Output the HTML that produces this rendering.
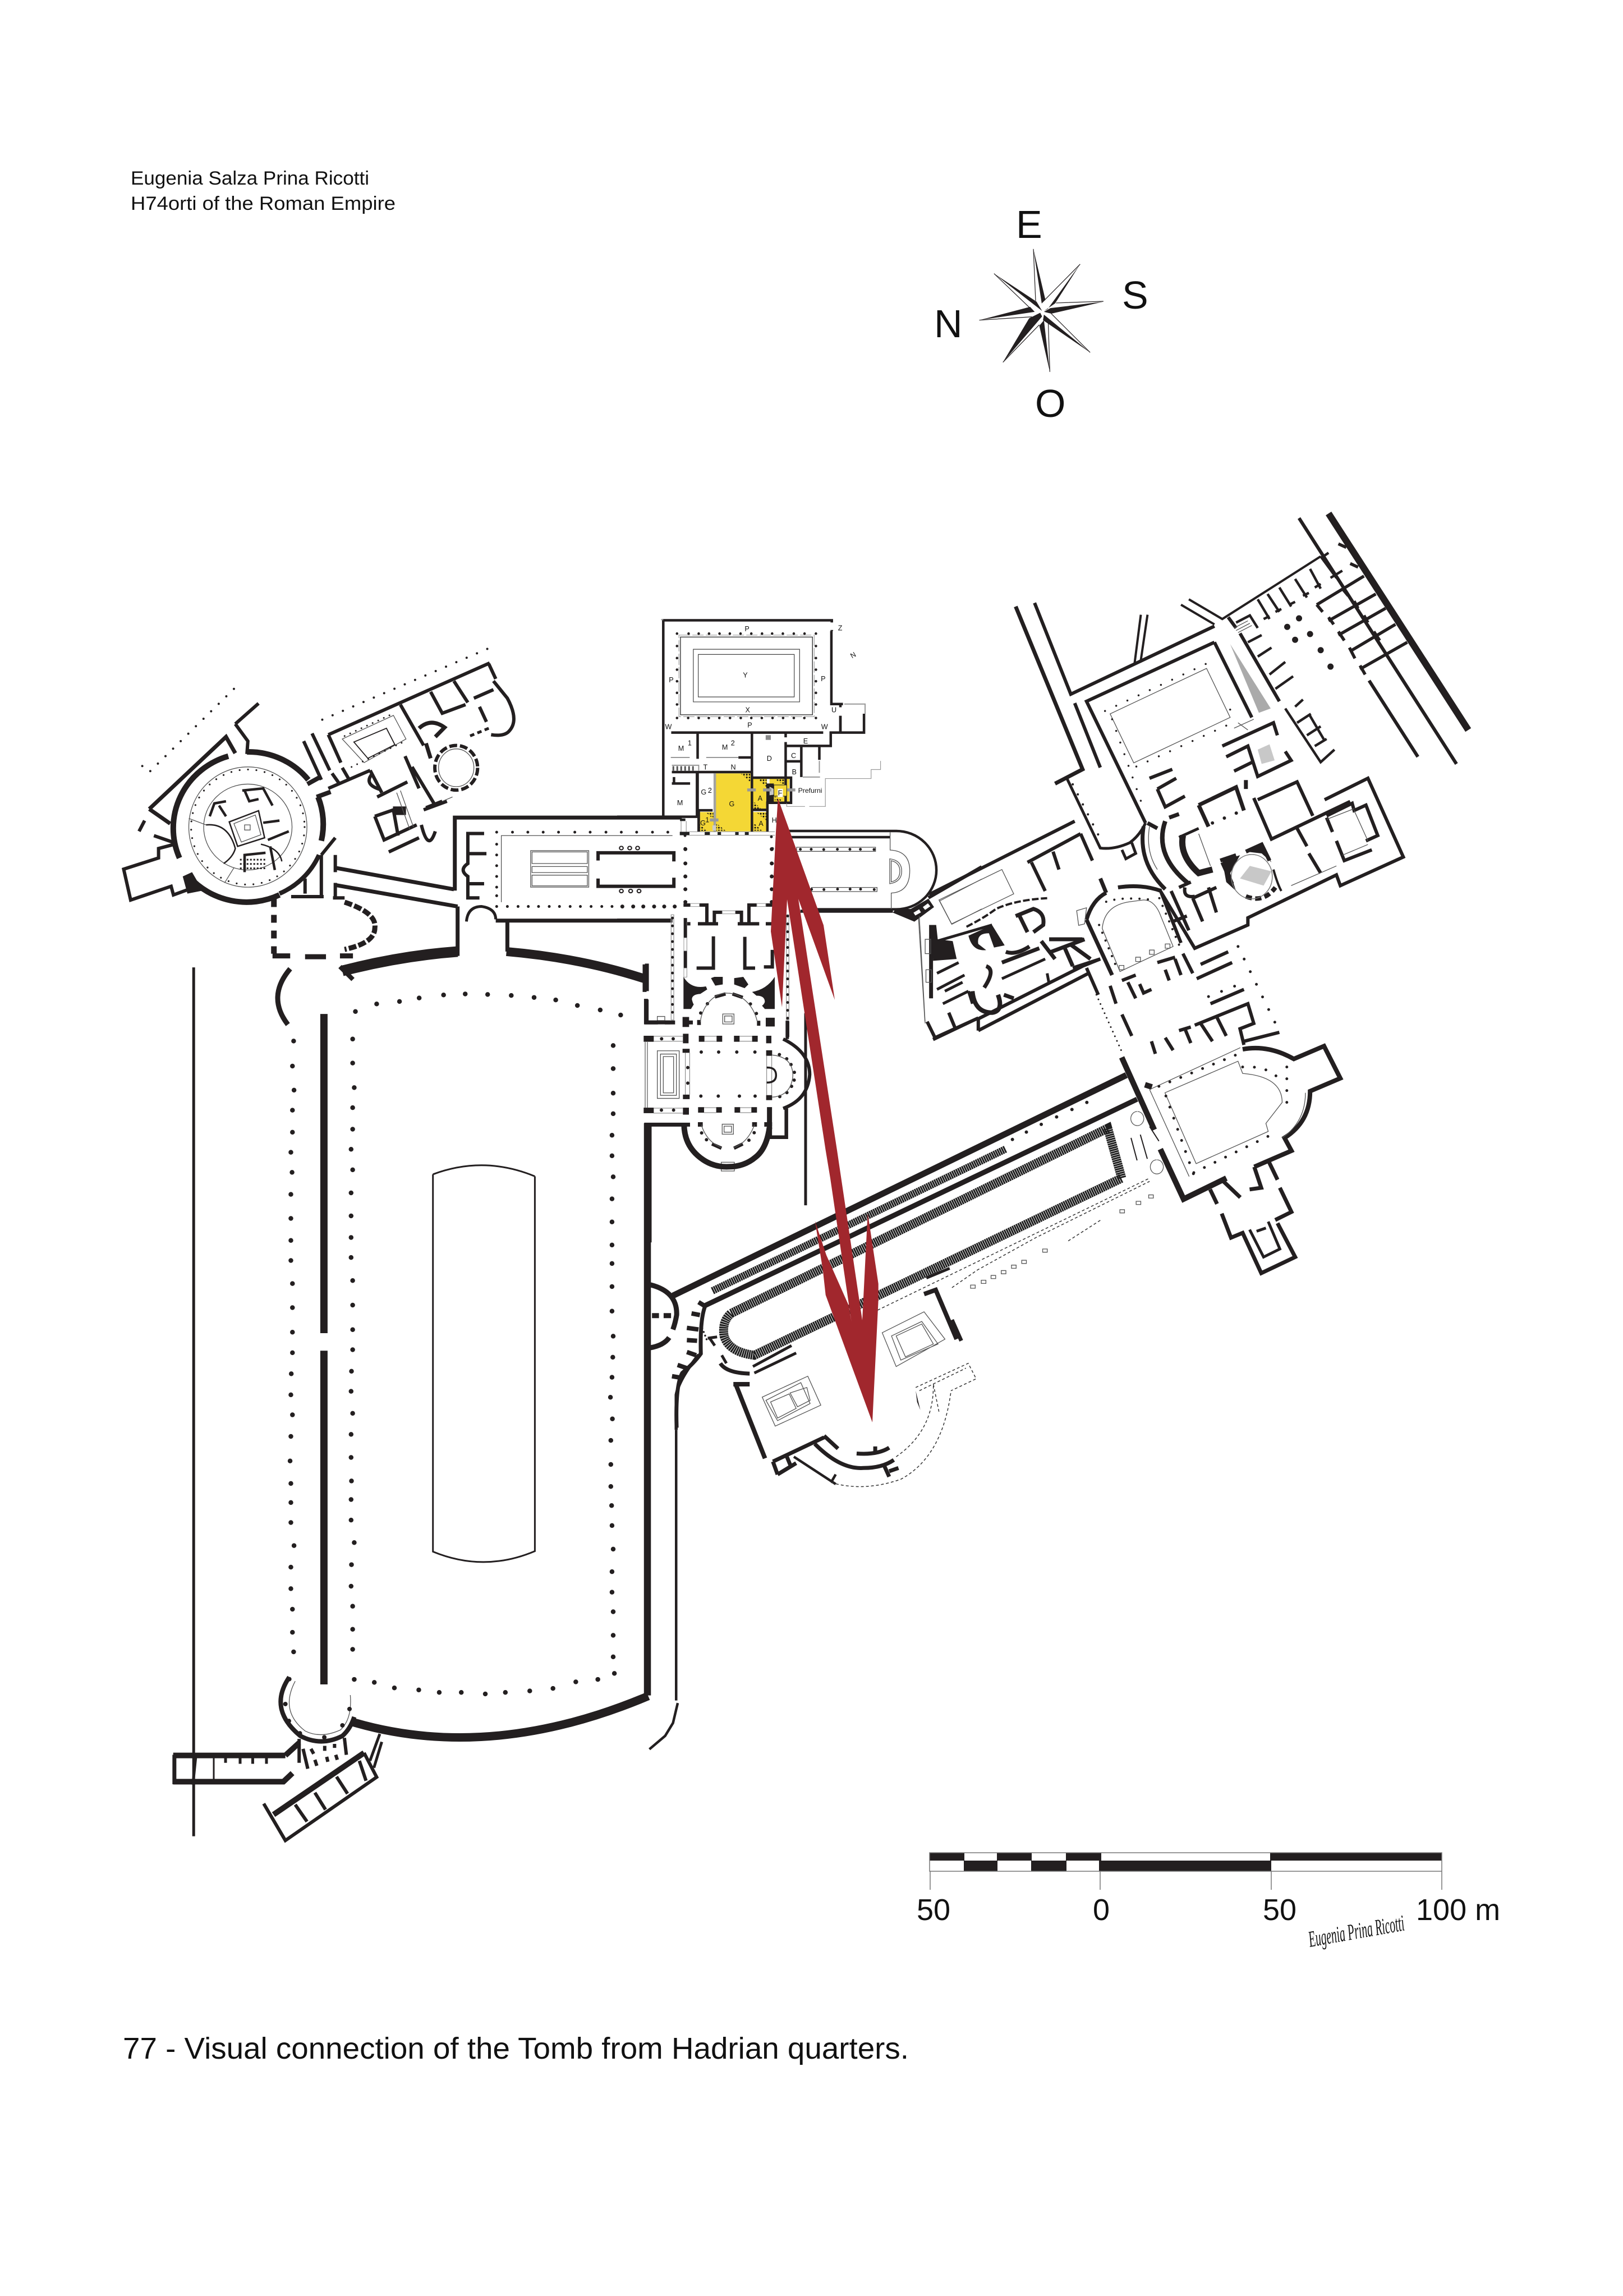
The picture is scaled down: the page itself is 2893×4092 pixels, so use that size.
<!DOCTYPE html>
<html lang="en">
<head>
<meta charset="utf-8">
<title>Visual connection of the Tomb from Hadrian quarters</title>
<style>
html,body{margin:0;padding:0;background:#fff;width:2893px;height:4092px;overflow:hidden}
svg{display:block}
svg *{vector-effect:non-scaling-stroke}
.plan{fill:none;stroke:#231f20;stroke-linejoin:miter;stroke-linecap:butt}
.solid{fill:#231f20;stroke:none}
.thin{stroke-width:1.3}
.t{stroke:#555;stroke-width:1.3;fill:none}
.g{stroke:#999;stroke-width:2;fill:none}
.dots{stroke-linecap:round;fill:none}
.hedge{stroke:#1f1f1f;stroke-dasharray:3 .9;fill:none}
.dash{stroke:#333;stroke-width:1.5;stroke-dasharray:5 4;fill:none}
.lab{font-family:"Liberation Sans",sans-serif;fill:#111;stroke:none;text-anchor:middle;font-size:33px}
.txt{font-family:"Liberation Sans",sans-serif;fill:#111;stroke:none}
</style>
</head>
<body>
<svg xmlns="http://www.w3.org/2000/svg" width="2893" height="4092" viewBox="0 0 2893 4092">
<rect width="2893" height="4092" fill="#fff"/>

<text class="txt" x="233" y="329" font-size="34" textLength="425" lengthAdjust="spacingAndGlyphs">Eugenia Salza Prina Ricotti</text>
<text class="txt" x="233" y="374" font-size="34" textLength="472" lengthAdjust="spacingAndGlyphs">H74orti of the Roman Empire</text>

<g transform="translate(1650,340) scale(.3294)">
  <g class="solid">
    <polygon points="583,315 648,590 628,610"/>
    <polygon points="836,397 700,610 640,650 660,640"/>
    <polygon points="962,600 675,635 640,655 680,665"/>
    <polygon points="890,875 640,670 635,700"/>
    <polygon points="672,980 615,730 640,700"/>
    <polygon points="418,928 560,690 620,660 630,680"/>
    <polygon points="290,700 565,628 590,655"/>
    <polygon points="370,448 600,600 630,650"/>
  </g>
  <path class="plan" stroke-width="1.2" d="M583 315L595 595M836 397L645 590M962 598L705 607M890 875L680 665M672 980L663 705M418 928L615 725M290 700L575 682M370 448L560 630"/>
</g>
<g class="txt" font-size="70">
  <text x="1811" y="424">E</text>
  <text x="1665" y="601">N</text>
  <text x="2000" y="550">S</text>
  <text x="1845" y="743">O</text>
</g>

<!-- Stadium (Pecile) : zoom space x=200+.7015X y=1700+.893Y -->
<g class="plan" transform="translate(200,1700) scale(.7015,.893)">
  <path stroke-width="5" d="M207 27V1761"/>
  <path stroke-width="13" d="M538 120V757M538 792V1458"/>
  <path stroke-width="3" d="M815 440Q945 402 1074 444M815 440V1193Q945 1235 1074 1192V444"/>
  <path stroke-width="12.5" d="M1360 338V1480"/>
  <path stroke-width="5.5" d="M1433 950V880Q1440 850 1490 800"/>
  <path stroke-width="4.5" d="M1433 950V1490"/>
  <path class="dots" stroke-width="8.5" d="M618 115h0M672 100h0M730 95h0M780 88h0M842 82h0M897 80h0M954 81h0M1014 83h0M1072 87h0M1127 92h0M1182 103h0M1240 112h0M1292 122h0
  M461 174h0M458 224h0M462 272h0M458 312h0M458 356h0M454 396h0M457 436h0M454 480h0M454 528h0M454 572h0M454 612h0M458 658h0M458 706h0M458 755h0M458 796h0M455 838h0M454 880h0M458 920h0M454 963h0M452 1012h0M454 1057h0M454 1095h0M454 1135h0M462 1181h0M454 1224h0M454 1267h0M458 1308h0M458 1354h0M461 1393h0
  M611 170h0M611 218h0M615 267h0M611 307h0M611 350h0M607 390h0M611 431h0M607 477h0M607 523h0M607 566h0M607 606h0M611 652h0M611 701h0M611 750h0M611 790h0M608 833h0M607 873h0M611 917h0M607 959h0M607 1005h0M608 1052h0M607 1089h0M607 1130h0M615 1175h0M608 1219h0M607 1262h0M611 1302h0M611 1348h0M611 1388h0
  M1273 183h0M1273 229h0M1273 278h0M1273 319h0M1270 362h0M1270 403h0M1273 445h0M1270 489h0M1270 535h0M1270 581h0M1270 618h0M1270 664h0M1270 713h0M1273 763h0M1272 805h0M1270 845h0M1266 885h0M1271 928h0M1267 971h0M1267 1019h0M1267 1063h0M1269 1101h0M1270 1141h0M1273 1188h0M1270 1233h0M1270 1274h0M1273 1313h0M1273 1360h0M1273 1403h0M1276 1436h0
  M615 1448h0M666 1454h0M717 1465h0M779 1469h0M831 1474h0M887 1474h0M948 1477h0M999 1474h0M1061 1471h0M1120 1466h0M1178 1453h0M1234 1448h0"/>
</g>

<!-- Zoom 7 space : south end x=200+.7015X y=2950+.355Y -->
<g class="plan" transform="translate(200,2950) scale(.7015,.355)">
  <path stroke-width="15" d="M610 335Q960 540 1362 205"/>
  <path stroke-width="8" d="M450 110Q395 270 478 405Q530 460 585 405Q605 370 615 310"/>
  <path class="t" d="M465 130Q425 280 490 380Q530 420 580 375Q610 320 605 200"/>
  <path class="dots" stroke-width="8" d="M450 120h0M440 245h0M449 330h0M477 392h0M539 412h0M585 352h0M603 270h0"/>
  <path stroke-width="4.5" d="M1437 240L1425 340L1405 405L1365 472"/>
  <g>
    <path stroke-width="10" d="M155 503H440M440 503L475 440M155 635H435L458 592"/>
    <path stroke-width="7" d="M158 500V648"/>
    <path stroke-width="5" d="M212 515L205 650M288 515V540M325 515V545M357 515V545M392 515V545"/>
    <path stroke-width="3" d="M258 495V645"/>
    <path stroke-width="6" d="M475 420V540M485 470L497 570M590 415L595 500M505 470L512 495M540 455V480M565 445V465M515 525L520 555M545 510L548 535M568 500L572 525"/>
  </g>
  <g>
    <path stroke-width="10" d="M640 490L410 800"/>
    <path stroke-width="6" d="M385 745L440 930L672 612L640 490M465 750L495 835M515 690L542 775M570 610L598 695M628 530L645 630"/>
    <path stroke-width="5" d="M680 395L655 530M685 435L665 565"/>
  </g>
</g>

<!-- Zoom 1 space : x=150+.829X y=900+.7653Y -->
<g class="plan" transform="translate(150,900) scale(.829,.7653)">
  <g stroke-width="10">
    <path d="M350 575A165 175 0 0 1 482 640"/>
    <path d="M503 680A165 175 0 0 1 510 782"/>
    <path stroke-width="8" d="M505 815A165 175 0 0 1 420 905"/>
    <path d="M225 865A165 175 0 0 0 420 908"/>
    <path d="M205 822A165 175 0 0 1 310 585"/>
  </g>
  <path stroke-width="7" d="M140 708L305 540L325 578M140 708L185 742"/>
  <path stroke-width="6" d="M325 510L375 462M325 510L352 550L350 580"/>
  <path class="dots" stroke-width="4" stroke-dasharray="0 19" d="M125 608L140 622L325 425L315 408"/>
  <path stroke-width="6" d="M195 790L160 800V822L85 848L100 920L187 888L192 908L225 895M130 735L118 760M150 770L190 785"/>
  <polygon class="solid" points="212,865 232,855 255,898 222,905"/>
  <path stroke-width="8" d="M480 650L505 635M500 680L530 668"/>
  <ellipse class="t" cx="352" cy="750" rx="127" ry="140"/>
  <ellipse class="dots" cx="352" cy="750" rx="122" ry="134" stroke-width="3.2" stroke-dasharray="0 15"/>
  <ellipse class="t" cx="352" cy="750" rx="95" ry="100"/>
  <g>
    <path stroke-width="2.5" d="M312 738L375 712L388 775L330 795Z"/>
    <path class="t" d="M322 742L368 722L380 768L338 785Z"/>
    <rect x="345" y="745" width="12" height="12" class="t"/>
    <path stroke-width="4.5" d="M270 725L280 695L305 690M290 700L305 725M340 665L385 660L405 700M345 665L355 690L375 685M385 740L420 735M395 780L440 760M345 855L345 815L390 810M400 795L410 850"/>
    <path stroke-width="2.5" d="M262 745Q310 740 325 800Q320 820 300 835M380 790Q420 800 425 830"/>
    <path stroke="#231f20" stroke-width="3" stroke-dasharray="3 3" d="M335 826H392M335 836H392M335 846H392"/>
    <path class="t" d="M225 730L262 745M322 845L302 880"/>
  </g>
  <!-- NW building -->
  <g>
    <path class="dots" stroke-width="4" stroke-dasharray="0 20" d="M512 500L878 330"/>
    <path stroke-width="6" d="M525 535L872 368M525 660L615 618M500 680L530 668M525 535L552 600M490 532L528 618M472 550L510 640M533 625L548 648M555 612L570 640"/>
    <path class="t" d="M555 545L665 490L692 545L602 600Z"/>
    <path stroke-width="1.8" d="M580 552L650 520L668 558L610 590Z"/>
    <path class="dots" stroke-width="3" stroke-dasharray="0 11" d="M560 538L668 484M575 610L690 550"/>
    <path stroke-width="6" d="M615 618L640 670M620 625Q600 650 635 662M680 465L730 560M690 585L720 660M705 610L755 700M730 710L780 690M630 680L695 645M745 435L770 485L820 465M795 410L825 460M838 450L880 430M850 470L865 505M880 410L910 450Q935 500 915 525Q905 540 875 535M870 370L885 405"/>
    <path stroke-width="5" stroke-dasharray="8 6" d="M870 520L825 540"/>
    <path stroke-width="7" d="M720 520Q745 495 775 518L755 540M735 555L745 590"/>
    <ellipse stroke-width="6" stroke-dasharray="14 5" cx="800" cy="612" rx="46" ry="52"/>
    <ellipse class="t" cx="800" cy="612" rx="38" ry="44"/>
    <path stroke-width="6" d="M625 725L665 710L675 770M625 725L645 780L715 745M655 808L720 775M735 705L770 690M725 745Q740 810 755 760"/>
    <rect x="664" y="702" width="28" height="20" fill="#231f20" stroke="none"/>
    <path class="t" d="M672 670L700 755M680 665L708 750M770 690L792 680"/>
  </g>
  <!-- Courtyard -->
  <g>
    <path stroke-width="7" d="M797 898V728H1285M885 968H1265M540 845L795 895M540 885L803 935M803 935V1050M910 970V1040"/>
    <path stroke-width="6" d="M860 765H825V810M865 812H825V835Q805 850 825 865V915H850M860 882H825"/>
    <path stroke-width="5" d="M822 970Q825 935 855 935Q885 940 885 965"/>
    <path stroke-width="1.3" stroke="#555" d="M1265 770H897V925"/>
    <g class="g" stroke-width="1.3" style="stroke:#555;stroke-width:1.3">
      <rect x="960" y="805" width="125" height="85"/>
      <rect x="963" y="808" width="119" height="27"/>
      <rect x="963" y="842" width="119" height="14"/>
      <rect x="963" y="862" width="119" height="25"/>
    </g>
    <path stroke-width="6" d="M1105 828V810H1268V830M1105 870V888H1268V868"/>
    <path class="dots" stroke-width="5" d="M887 762h0M921 762h0M954 762h0M987 762h0M1020 762h0M1055 762h0M1088 762h0M1122 762h0M1155 762h0M1188 762h0M1222 762h0M1255 762h0
    M887 790h0M887 815h0M887 840h0M887 865h0M887 890h0M887 910h0
    M887 935h0M910 935h0M933 935h0M955 935h0M977 935h0M1000 935h0M1022 935h0M1045 935h0M1067 935h0M1090 935h0M1113 935h0M1135 935h0M1158 935h0M1180 935h0M1203 935h0M1225 935h0M1248 935h0M1270 935h0
    M1292 770h0M1292 800h0M1292 835h0M1292 865h0M1292 895h0M1292 925h0M1480 800h0M1480 835h0"/>
    <path stroke-width="2" d="M1155 795a4 4 0 1 0 .1 0M1173 795a4 4 0 1 0 .1 0M1190 795a4 4 0 1 0 .1 0M1155 895a4 4 0 1 0 .1 0M1175 895a4 4 0 1 0 .1 0M1193 895a4 4 0 1 0 .1 0"/>
  </g>
  <g>
    <path stroke-width="6" d="M510 815L540 775M540 815V855M540 880V915M445 912H515M510 815V915M475 870V905M535 915H560"/>
    <path stroke-width="10" stroke-dasharray="14 14" d="M408 918V1045"/>
    <path stroke-width="9" d="M405 1050H443M475 1052H520M550 1050H578"/>
    <path stroke-width="9" stroke-dasharray="14 4" d="M560 925Q630 950 625 985Q625 1020 560 1035"/>
    <path stroke-width="9" d="M443 1080Q392 1145 438 1210"/>
    <path stroke-width="8" d="M550 1075L578 1105"/>
  </g>
  <path stroke-width="19" d="M555 1085Q680 1050 803 1040"/>
  <path stroke-width="16" d="M908 1040Q1070 1055 1210 1105"/>
  <path stroke-width="7" d="M1210 1068V1132M1208 1150V1205H1260"/>
</g>

<!-- Zoom 11 space : central hall x=1100+X/3 y=1500+.4464Y -->
<g class="plan" transform="translate(1100,1500) scale(.3333,.4464)">
  <path class="dots" stroke-width="7" d="M365 30h0M365 87h0M365 139h0M365 190h0M365 241h0M827 30h0M827 87h0M827 139h0M827 190h0M827 241h0M28 259h0M86 259h0M140 259h0M198 259h0M252 259h0M308 259h0"/>
  <path stroke-width="6" d="M355 253H480V322M520 322V282H665V322M705 322V253H830M375 328H392M432 328H540M645 328H760M795 328H830M365 305V500M365 540V500M515 378V505H425M683 380V505H738M830 432V500H785M0 314H290"/>
  <rect x="392" y="247" width="48" height="12" fill="#fff" stroke="#999"/>
  <rect x="562" y="276" width="70" height="12" fill="#fff" stroke="#999"/>
  <rect x="747" y="247" width="48" height="12" fill="#fff" stroke="#999"/>
  <rect x="357" y="384" width="16" height="52" fill="#fff" stroke="#999"/>
  <rect x="357" y="505" width="16" height="36" fill="#fff" stroke="#999"/>
  <g class="solid">
    <path d="M355 540Q395 590 475 578L482 590L445 608Q400 610 400 630Q405 645 410 650L395 668H355Z"/>
    <path d="M843 540Q800 590 722 600L745 615Q790 615 790 640Q785 650 775 655L790 668H843Z"/>
    <path d="M502 545L520 540H565V570L525 575Z"/>
    <path d="M626 545L675 540L702 570L682 585L626 570Z"/>
    <rect x="350" y="700" width="35" height="40"/><rect x="795" y="703" width="48" height="35"/>
    <rect x="428" y="712" width="20" height="20"/><rect x="748" y="715" width="18" height="20"/>
    <rect x="142" y="775" width="54" height="24"/><rect x="352" y="767" width="30" height="38"/>
    <rect x="437" y="775" width="30" height="24"/><rect x="532" y="775" width="30" height="24"/>
    <rect x="625" y="775" width="30" height="24"/><rect x="722" y="775" width="30" height="24"/>
    <rect x="797" y="775" width="28" height="30"/>
    <rect x="350" y="827" width="38" height="16"/><rect x="352" y="1010" width="36" height="18"/>
    <rect x="797" y="833" width="32" height="22"/><rect x="797" y="1012" width="32" height="20"/>
    <rect x="142" y="1062" width="54" height="22"/><rect x="352" y="1062" width="32" height="28"/>
    <rect x="433" y="1060" width="32" height="22"/><rect x="530" y="1060" width="30" height="22"/>
    <rect x="628" y="1060" width="30" height="22"/><rect x="718" y="1060" width="30" height="22"/>
    <rect x="432" y="1120" width="26" height="18"/><rect x="722" y="1120" width="26" height="18"/>
    <rect x="787" y="1120" width="42" height="18"/>
  </g>
  <path class="dots" stroke-width="6" d="M447 684h0M483 647h0M713 648h0M745 686h0M238 787h0M300 787h0M450 840h0M543 840h0M640 840h0M737 840h0M448 1016h0M541 1016h0M654 1016h0M738 1016h0M378 902h0M378 964h0M237 1072h0M302 1072h0M452 1163h0M478 1190h0M705 1192h0M733 1162h0M868 850h0M907 867h0M930 890h0M948 921h0M947 952h0M933 977h0M908 1002h0M870 1018h0"/>
  <path stroke-width="6" d="M523 620L580 608M617 608L672 622M507 1207L558 1224M625 1224L672 1207"/>
  <path class="t" d="M445 720C455 650 530 600 590 605C660 605 730 650 750 720M450 1130Q480 1200 560 1222M735 1130Q700 1200 625 1222M830 852Q940 860 940 935Q930 1015 830 1020"/>
  <path stroke="#777" stroke-width="1" d="M195 777H352M195 797H352M195 1064H352M195 1084H352M467 777H532M467 797H532M655 777H722M655 797H722M465 1062H530M465 1082H530M658 1062H718M658 1082H718M365 843V1010M388 843V1010M800 855V1012M827 855V1012"/>
  <path class="t" d="M215 835h117v190h-117zM232 848h85v165h-85zM247 858h55v145h-55zM565 688h60v40h-60zM575 696h40v24h-40zM562 1128h60v40h-60zM572 1136h40v24h-40zM557 1280h70v35h-70zM557 1292h70M557 1304h70M215 698h40v16h-40z"/>
  <path class="g" d="M150 800V1062M162 800V1062"/>
  <path stroke-width="3.5" d="M800 902Q850 900 850 933Q850 962 800 962"/>
  <path stroke-width="6" d="M888 788Q1030 840 1030 930Q1020 1030 888 1065M910 715V788"/>
  <path stroke-width="9" d="M815 1060V1180"/>
  <path stroke-width="6.5" d="M815 1180H905V1065"/>
  <path stroke-width="10" d="M358 1130Q360 1220 460 1270Q520 1300 595 1298Q680 1298 740 1260Q800 1225 815 1140"/>
  <path stroke-width="7" d="M145 1130H390"/>
  <path stroke-width="7" d="M147 490V600M158 630V722H218M255 722H310M405 722H355"/>
  <path stroke-width="13" d="M165 1130V1600"/>
  <path stroke-width="5" d="M1008 685V1452"/>
  <g>
    <rect x="289" y="292" width="14" height="420" stroke="#999" stroke-width="1.3"/>
    <rect x="905" y="292" width="14" height="420" stroke="#999" stroke-width="1.3"/>
    <path class="dots" stroke-width="5" stroke-dasharray="0 14" d="M296 305V705M912 297V705"/>
  </g>
  <path stroke-width="6" d="M912 717V780"/>
</g>

<!-- Zoom 8 space : apsidal hall x=1250+X/3 y=1400+Y/3 -->
<g class="plan" transform="translate(1250,1400) scale(.3333)">
  <path stroke-width="4.5" d="M470 243H1043A213 208 0 0 1 1043 662H620M480 276H1010"/>
  <path stroke-width="5.5" d="M530 672H1025"/>
  <path class="t" d="M1010 250V345Q1115 350 1115 455Q1115 570 1016 575V660"/>
  <rect x="510" y="330" width="422" height="22" class="t"/>
  <rect x="590" y="545" width="350" height="22" class="t"/>
  <path class="dots" stroke-width="5" d="M530 341h0M588 341h0M655 342h0M728 341h0M795 341h0M851 341h0M924 342h0M590 555h0M656 556h0M729 554h0M796 554h0M852 554h0M925 556h0M375 274h0M377 339h0M379 416h0M377 486h0M377 555h0M375 622h0"/>
  <path class="t" d="M1008 392Q1072 400 1072 458Q1072 515 1008 525ZM1016 402Q1062 412 1062 458Q1062 505 1016 515Z"/>
  <polygon class="solid" points="1025,680 1140,728 1245,650 1215,605 1120,660 1040,660"/>
  <polygon points="1135,680 1165,662 1175,678 1145,695" fill="#fff" stroke="none"/>
  <polygon points="1185,650 1212,630 1225,646 1197,665" fill="#fff" stroke="none"/>
  <path stroke-width="6" d="M1215 600L1500 435"/>
  <path class="t" d="M1162 712L1196 1262"/>
  <path class="t" d="M1275 617L1500 500M1275 617L1340 742L1500 660"/>
</g>

<!-- Zoom 2 space : Prefurni complex x=1100+.3827X y=1050+.3827Y -->
<g class="plan" transform="translate(1100,1050) scale(.3827)">
  <defs>
    <pattern id="halftone" patternUnits="userSpaceOnUse" width="13" height="13"><circle cx="6" cy="6" r="4" fill="#111" stroke="none"/></pattern>
  </defs>
  <g fill="#f4d735" stroke="none" style="stroke:none">
    <rect x="460" y="858" width="164" height="270"/>
    <rect x="380" y="1038" width="70" height="90"/>
    <rect x="632" y="880" width="66" height="146"/>
    <rect x="632" y="1038" width="66" height="90"/>
    <rect x="710" y="880" width="92" height="112"/>
  </g>
  <g fill="url(#halftone)" style="stroke:none" stroke="none">
    <polygon points="575,858 620,858 620,900"/><polygon points="462,1125 505,1125 462,1090"/>
    <polygon points="415,1040 448,1040 448,1070"/><polygon points="380,1090 420,1126 380,1126"/>
    <polygon points="655,882 696,882 696,925"/><polygon points="632,985 672,1025 632,1025"/>
    <polygon points="650,1040 696,1040 696,1080"/><polygon points="632,1085 675,1125 632,1125"/>
    <polygon points="735,885 780,885 780,912"/><polygon points="735,965 780,990 735,990"/>
  </g>
  <path stroke-width="4.5" d="M215 1065V145H1000V155M998 195V535H1052M1040 540V550M1040 590V668M1150 580V668H995V730H785M990 668H1150M252 668H960M215 1060H0M215 1060H372V855M255 852H625M628 670V1130M375 670V790M375 855V1030H445M380 1030V1130"/>
  <path stroke-width="4.5" d="M785 670V690M785 712V880M858 730V875M790 802H855M942 730V795M630 878H810V995H700V1130M700 1028H632M785 880V990M565 784H625M255 905H340M265 875V905M380 1030V1130M1000 195V190M1040 590V668"/>
  <path class="solid" d="M695 905L730 905V990H695Z" style="fill:#231f20"/>
  <path style="fill:#c8c8c8;stroke:none" d="M710 920Q745 935 745 955L710 960Z"/>
  <rect x="730" y="912" width="60" height="52" fill="#f4d735" stroke="#222" stroke-width="1"/>
  <rect x="748" y="930" width="24" height="38" fill="#fff" stroke="none"/>
  <path class="g" d="M250 784H338M415 784H565M255 820H380V845M452 858V1130M458 858V1130M942 800V855M865 875H945M1058 535H1155V580M205 142H215"/>
  <path stroke-width="2" stroke="#555" stroke-dasharray="3 4" d="M258 835H368" style="stroke-width:8"/>
  <path stroke="#999" stroke-width="1.2" d="M1227 800V840H1183V882H970V1012H895M875 1012H790V998" fill="none"/>
  <g class="solid" style="fill:#999">
    <rect x="606" y="928" width="40" height="14"/><rect x="680" y="928" width="38" height="14"/><rect x="792" y="928" width="38" height="14"/>
    <rect x="432" y="1068" width="40" height="14"/><rect x="692" y="680" width="24" height="22" style="fill:#8a8a8a"/>
  </g>
  <rect x="444" y="1100" width="16" height="24" fill="#ccc" stroke="none"/>
  <g class="t" style="stroke:#444">
    <rect x="295" y="223" width="615" height="362" stroke-width="1.5"/>
    <rect x="288" y="214" width="630" height="380" stroke="#aaa" stroke-dasharray="20 4"/>
    <rect x="355" y="280" width="495" height="245" stroke-width="1.2"/>
    <rect x="378" y="304" width="447" height="198" stroke-width="1.2"/>
  </g>
  <path class="dots" stroke-width="4.6" d="M279 207h0M333 207h0M380 207h0M428 207h0M477 207h0M525 207h0M575 207h0M625 207h0M675 207h0M722 207h0M772 207h0M823 207h0M873 207h0M926 207h0M279 600h0M331 600h0M380 600h0M427 600h0M476 600h0M526 600h0M576 600h0M625 600h0M674 600h0M724 600h0M773 600h0M823 600h0M872 600h0M926 600h0M279 265h0M279 321h0M279 375h0M279 429h0M279 483h0M279 537h0M926 265h0M926 321h0M926 375h0M926 429h0M926 483h0M926 537h0"/>
  <g stroke-width="0" class="solid" style="fill:#222">
    <rect x="292" y="1130" width="45" height="16"/><rect x="293" y="1068" width="25" height="12"/><rect x="408" y="1130" width="24" height="16"/><rect x="468" y="1130" width="16" height="16"/><rect x="550" y="1130" width="16" height="16"/><rect x="595" y="1130" width="18" height="16"/>
  </g>
  <path class="g" style="stroke-width:1.2" d="M337 1130H735M337 1146H735M298 1080V1130M322 1080V1130"/>
  <g>
    <text class="lab" x="605" y="196">P</text>
    <text class="lab" x="1039" y="192">Z</text>
    <text class="lab" x="1100" y="318" transform="rotate(-30 1100 308)" font-size="26">N</text>
    <text class="lab" x="252" y="434">P</text>
    <text class="lab" x="960" y="428">P</text>
    <text class="lab" x="597" y="412">Y</text>
    <text class="lab" x="608" y="574">X</text>
    <text class="lab" x="1010" y="574">U</text>
    <text class="lab" x="239" y="652">W</text>
    <text class="lab" x="618" y="644">P</text>
    <text class="lab" x="966" y="652">W</text>
    <text class="lab" x="878" y="718">E</text>
    <text class="lab" x="298" y="752">M</text>
    <text class="lab" x="338" y="728" font-size="20">1</text>
    <text class="lab" x="502" y="747">M</text>
    <text class="lab" x="539" y="728" font-size="20">2</text>
    <text class="lab" x="709" y="800">D</text>
    <text class="lab" x="822" y="786">C</text>
    <text class="lab" x="825" y="862">B</text>
    <text class="lab" x="411" y="840">T</text>
    <text class="lab" x="541" y="840">N</text>
    <text class="lab" x="403" y="956">G</text>
    <text class="lab" x="432" y="948" font-size="28">2</text>
    <text class="lab" x="534" y="1011">G</text>
    <text class="lab" x="293" y="1006">M</text>
    <text class="lab" x="666" y="985">A</text>
    <text class="lab" x="759" y="960">F</text>
    <text class="lab" x="400" y="1100">G</text>
    <text class="lab" x="420" y="1086" font-size="18">1</text>
    <text class="lab" x="670" y="1103">A</text>
    <text class="lab" x="732" y="1087">H</text>
    <text class="lab" x="899" y="948" style="font-size:32px">Prefurni</text>
  </g>
</g>

<!-- Zoom 3 space : east complex x=1600+.7015X y=880+.6378Y -->
<g class="plan" transform="translate(1600,880) scale(.7015,.6378)">
  <path stroke-width="12" d="M1095 55L1450 660"/>
  <path stroke-width="6" d="M1020 68L1420 755M1198 522L1322 735"/>
  <path stroke-width="7" d="M300 315L470 770L400 810"/>
  <path stroke-width="6" d="M348 305L440 560L805 370M450 585L515 765"/>
  <path stroke-width="4" d="M720 310L805 365M740 295L825 350L1075 175M618 338L602 475M635 338L618 465"/>
  <g>
    <path stroke-width="6" d="M805 415L480 580L630 920M805 415L900 625"/>
    <path class="t" d="M540 615L785 488L845 625L600 752Z"/>
    <path class="dots" stroke-width="3.5" stroke-dasharray="0 22" d="M527 607L790 472M845 603L860 630M835 648L595 768M545 630L625 880"/>
  </g>
  <path class="dots" stroke-width="4" stroke-dasharray="0 20" d="M445 812L520 975"/>
  <path stroke-width="5" d="M430 795L515 990Q550 995 590 975Q615 955 630 920M570 995L580 1020L605 1005L595 975"/>
  <g>
    <path stroke-width="4.5" d="M915 295L945 350M940 280L970 330M970 262L1000 315M1010 238L1040 290M1048 210L1075 265M1075 175L1115 235M1095 165L1075 180M930 350L945 342M960 330L975 322M995 310L1010 302M1030 285L1045 277M1060 262L1075 252M1100 235L1130 215"/>
    <path stroke-width="6" d="M840 345L860 375M870 390L970 580"/>
    <path stroke-width="4.5" d="M890 415L925 395M915 455L950 430M945 505L985 470M960 545L1005 510M985 600L1075 750L1110 715M1010 595L1030 575M1015 640L1050 615M1040 675L1075 650M1060 705L1090 685M1045 615L1085 690M860 360L895 340L915 375"/>
    <path class="t" d="M855 375L890 355M860 382L895 362M865 388L900 368"/>
    <path stroke-width="5.5" d="M1065 310L1185 230M1095 355L1215 280M1120 395L1240 320M1150 440L1265 365M1175 490L1295 415M1065 310L1080 330M1095 345L1108 365M1120 385L1135 410M1148 430L1162 460M1175 480L1188 505M1130 265L1145 285M1160 300L1170 320M1185 340L1195 360M1210 385L1225 410M1120 140L1140 150M1150 195L1170 205"/>
    <path class="dots" stroke-width="11" d="M990 372h0M1020 348h0M1010 408h0M1048 392h0M1075 437h0M1100 483h0"/>
  </g>
  <polygon points="845,420 948,600 918,612" fill="#aaa" stroke="none"/>
  <polygon points="915,715 945,700 958,745 925,755" fill="#c8c8c8" stroke="none"/>
  <g>
    <path stroke-width="6" d="M825 705L955 640L965 675M835 735L890 705L915 790L1000 745L985 720M855 775L905 748M640 795L698 770M660 825L708 795M660 825L680 875L730 845"/>
    <path class="t" d="M855 655L905 630M865 640L890 660"/>
    <path stroke-width="7" d="M885 800V825M765 870L860 820L880 885M765 870L790 930"/>
    <path class="dots" stroke-width="6" stroke-dasharray="0 23" d="M800 920L870 888"/>
    <path stroke-width="6" d="M905 850L950 965L1150 860M915 855L1015 805L1055 900M1085 855L1195 795L1285 1015L1125 1095L1115 1065L890 1185V1205L755 1270L665 1105"/>
    <path stroke-width="6" d="M1090 900L1155 865L1160 885L1190 870L1220 955L1190 970M1090 905L1105 945M1015 935L1040 985M1045 1005L1075 1060M1115 970L1135 1025L1205 995"/>
    <path class="t" d="M1000 1095L1115 1040M1090 910L1160 880M1130 1010L1195 980M1160 885L1195 970"/>
  </g>
  <g>
    <path stroke-width="7" d="M625 930Q610 1030 680 1105"/>
    <path stroke-width="8" d="M680 915Q650 1010 740 1090"/>
    <path stroke-width="7" d="M635 920L660 935M690 905L715 895"/>
    <path class="t" d="M640 930Q630 1000 660 1050"/>
    <path stroke-width="11" d="M725 955Q715 1010 765 1060L800 1050"/>
    <path stroke-width="5" d="M715 960L765 935"/>
    <path class="t" d="M765 950L795 1040"/>
  </g>
  <g>
    <path stroke-width="7" d="M820 1025L860 1010M825 1030L850 1090M885 1000L925 980L945 1025"/>
    <polygon class="solid" points="825,1025 870,1010 845,1060 860,1110 835,1085"/>
    <polygon class="solid" points="885,1000 925,980 950,1030 925,1005"/>
    <path stroke-width="8" stroke-dasharray="11 6" d="M885 1125Q930 1145 960 1100"/>
    <path stroke-width="4" d="M955 1050Q965 1090 975 1110"/>
    <ellipse stroke="#777" stroke-width="1.5" cx="900" cy="1070" rx="52" ry="62"/>
    <polygon points="870,1075 895,1040 950,1055 930,1095 900,1085" fill="#c8c8c8" stroke="none"/>
  </g>
  <path stroke-width="6" d="M730 1100Q725 1130 755 1125M750 1130L810 1100M790 1100L810 1170M775 1195L750 1130M670 1115L720 1255M695 1110L740 1220M700 1195L735 1180M715 1100L745 1085"/>
  <g>
    <path stroke-width="7" d="M560 1100Q620 1090 670 1110M480 1190Q495 1135 530 1115M515 1075L530 1115M480 1190L545 1345"/>
    <path class="t" d="M520 1215Q525 1150 590 1140L625 1135Q650 1135 665 1170L700 1265L565 1335Z"/>
    <path class="dots" stroke-width="4" stroke-dasharray="0 15" d="M512 1205L555 1320M530 1140Q570 1125 650 1135M665 1130L715 1260"/>
    <path class="t" d="M605 1295h12v12h-12zM640 1275h12v12h-12zM680 1258h12v12h-12zM563 1318h12v12h-12z"/>
  </g>
  <g>
    <path stroke-width="6" d="M540 1375L555 1425M570 1360L605 1345M585 1365L605 1410M615 1370L625 1395L645 1385M660 1310L705 1295M680 1330L690 1360M705 1300L720 1345M725 1285L750 1340M770 1315L840 1280M760 1355L850 1310M795 1425L880 1385M570 1455L595 1515M480 1325L510 1400M445 1325L515 1300"/>
    <path class="dots" stroke-width="5" stroke-dasharray="0 25" d="M790 1405L870 1370M865 1265L960 1480"/>
    <path class="dots" stroke-width="3" stroke-dasharray="0 9" d="M505 1400L570 1560"/>
    <path stroke-width="6" d="M755 1485L890 1425L905 1480L870 1495L880 1540M810 1460L835 1515M715 1500L745 1490M730 1495L745 1535M770 1480L800 1530M880 1530L970 1505M680 1520L700 1555M645 1530L655 1565"/>
  </g>
  <g>
    <path stroke-width="6" d="M450 915L80 1120M465 950L330 1030M340 1030L375 1110M395 1000L410 1050M465 950L495 1025"/>
    <path class="t" d="M105 1135L265 1050L295 1118L137 1202Z"/>
    <path stroke-width="4" stroke-dasharray="12 4" d="M175 1210Q220 1185 250 1160Q300 1135 380 1130"/>
    <path stroke-width="7" d="M85 1205V1410"/>
    <path stroke-width="5" d="M100 1250L240 1205M100 1340L155 1310M100 1385L170 1345M120 1390L165 1365M115 1425L180 1390M265 1355L375 1300M380 1340L385 1370M180 1390L190 1425"/>
    <path class="solid" d="M180 1235L240 1205L272 1262L245 1268L232 1228Q200 1228 205 1258L225 1275Q190 1280 180 1235Z"/>
    <path class="solid" d="M88 1205L98 1205L102 1245L140 1250L150 1300L90 1305Z"/>
    <path stroke-width="8" d="M190 1390Q195 1450 240 1450Q270 1445 255 1400"/>
    <path stroke-width="7" d="M300 1180L345 1160Q375 1170 370 1205L345 1225M310 1180L330 1225M275 1280Q300 1290 335 1265M265 1310L360 1270M365 1250L400 1300M385 1245L470 1245M390 1280L475 1245M425 1270L445 1320M440 1260L490 1300M225 1320Q250 1330 220 1380M270 1400L295 1410"/>
    <path stroke-width="6" d="M90 1525L195 1470M205 1500L485 1340M200 1470L470 1320M470 1320L515 1300M130 1450L145 1490M75 1475L95 1520L205 1465M205 1465L205 1500"/>
    <path class="t" d="M55 1180L70 1480M70 1245h14v40h-14zM72 1330h14v35h-14z"/>
    <path class="t" d="M455 1165l25 -8l-5 45l-15 4z"/>
  </g>
</g>

<!-- Zoom 4 space : Canopus x=1100+.829X y=1850+.574Y -->
<g class="plan" transform="translate(1100,1850) scale(.829,.574)">
  <path stroke-width="11" d="M1095 115L120 800"/>
  <path stroke-width="9" d="M1118 190L190 830"/>
  <path stroke-width="7" d="M190 830Q178 870 180 980Q165 1010 140 1040Q125 1080 128 1210"/>
  <path class="hedge" stroke-width="13" d="M205 785L835 345"/>
  <path class="hedge" stroke-width="16" d="M1055 280L245 855Q225 880 230 925Q240 975 295 985L1085 435Z"/>
  <path class="dots" stroke-width="6" d="M850 315h0M880 292h0M912 268h0M945 245h0M978 222h0M1010 200h0"/>
  <path stroke-width="9" d="M68 765Q130 785 128 860Q125 885 120 905M70 962Q100 955 112 930M75 862H90M100 862H116"/>
  <path stroke-width="8" d="M175 820L192 835M160 855L178 860M150 900L175 905M150 938L172 940M150 975L170 985M130 1015L150 1025M118 1050L138 1055"/>
  <path class="dots" stroke-width="3.5" stroke-dasharray="0 7" d="M180 890L195 945"/>
  <path stroke-width="5" d="M198 930L210 955M195 932L215 928M225 985L235 1010"/>
  <g>
    <path stroke-width="8" d="M255 1075L318 1305M250 1075H285"/>
    <path stroke-width="5" d="M295 1040L385 978M292 1020L375 955"/>
    <path stroke-width="7" d="M222 1010Q235 1040 285 1042"/>
    <path stroke-width="7" d="M335 1315L445 1240M345 1355L335 1315M345 1355L385 1320M365 1300L375 1335M425 1260Q480 1340 530 1335Q570 1335 595 1310M515 1290Q560 1295 585 1272M555 1268V1285M445 1235L475 1275M575 1330L585 1362M585 1345L605 1335"/>
    <path stroke-width="4.5" d="M380 1300L470 1385M470 1355L460 1380"/>
    <path class="t" d="M312 1115L410 1050L438 1140L340 1205ZM320 1125L395 1070L415 1135L345 1188ZM330 1130L370 1105L385 1150L345 1180ZM372 1102L408 1085L415 1125L388 1145Z"/>
    <path class="dash" d="M460 1380Q530 1410 610 1370Q700 1300 718 1095M600 1300Q680 1220 680 1080M642 1085L755 1010L772 1058L718 1095M650 1095L750 1025M680 1075L692 1160"/>
  </g>
  <polygon class="solid" points="642,1095 652,1155 645,1130"/>
  <g>
    <path stroke-width="8" d="M660 795L685 782L730 935"/>
    <path stroke-width="7" d="M720 875L740 940"/>
    <path stroke-width="5" d="M665 745L715 715"/>
    <path class="t" d="M570 915L660 850L705 935L600 1020ZM590 925L655 880L690 950L610 1000ZM600 925L655 888L680 950L620 990Z"/>
    <path class="dash" d="M560 845L1145 435M720 775L775 720L900 620L1040 520L1145 445M970 630L1040 565"/>
    <path class="t" d="M760 767h10v10h-10zM783 752h10v10h-10zM804 737h10v10h-10zM826 722h10v10h-10zM848 705h10v10h-10zM870 690h10v10h-10zM915 655h10v10h-10zM1081 533h10v10h-10zM1116 507h10v10h-10zM1143 487h10v10h-10z"/>
    <path stroke-width="2" d="M1105 310L1118 380M1125 300L1140 375M1145 275L1165 320"/>
    <path class="t" d="M1118 228a14 22 0 1 0 1 0M1160 378a14 22 0 1 0 1 0"/>
  </g>
  <g>
    <path stroke-width="10" d="M1085 60L1155 285M1168 345L1218 500L1310 435M1135 145L1150 152"/>
    <path stroke-width="8" d="M1345 35Q1400 20 1455 65L1520 25L1555 125L1490 165Q1490 260 1435 310L1450 350L1370 400"/>
    <path stroke-width="7" d="M1275 470L1290 515M1300 440L1340 495M1370 400L1385 465L1360 470M1400 380L1420 440M1425 465L1450 540L1415 565M1300 545L1320 620L1345 605L1385 730L1458 680L1420 575"/>
    <path stroke-width="5" d="M1360 595L1390 680L1425 655L1400 570M1375 600L1395 590"/>
    <path class="t" d="M1178 170L1335 72L1345 110Q1430 120 1430 200L1395 265L1400 290L1245 390Z"/>
    <path class="t" d="M1145 160L1340 30M1145 160L1230 430M1430 310Q1480 260 1480 170"/>
    <path class="dots" stroke-width="5" stroke-dasharray="0 21" d="M1165 150L1335 50M1180 180L1240 425M1240 418L1400 305M1440 90L1440 230M1345 90Q1400 85 1425 130"/>
  </g>
</g>

<polygon fill="#a1272d" points="1386.7,1422.7 1468,1649 1488,1782 1423,1602 1492,2050 1537,2353 1546.7,2162 1565.7,2288 1565.7,2317 1555,2535 1471.7,2308 1466.7,2263 1452.7,2176 1473,2237 1513,2327 1517.7,2356 1480,2100 1471.7,2050 1403,1603 1394,1795 1374,1660 1383,1483"/>

<g>
  <g fill="#231f20">
    <rect x="1657" y="3302" width="62" height="14"/>
    <rect x="1777" y="3302" width="62" height="14"/>
    <rect x="1900" y="3302" width="63" height="14"/>
    <rect x="2264" y="3302" width="306" height="14"/>
    <rect x="1718" y="3316" width="60" height="19"/>
    <rect x="1838" y="3316" width="63" height="19"/>
    <rect x="1959" y="3316" width="307" height="19"/>
  </g>
  <path fill="none" stroke="#777" stroke-width="1.5" d="M1657 3302H2570V3335H1657ZM1658 3335V3368M1961 3335V3368M2266 3335V3368M2570 3335V3368"/>
  <g class="txt" font-size="54">
    <text x="1634" y="3422">50</text>
    <text x="1948" y="3422">0</text>
    <text x="2251" y="3422">50</text>
    <text x="2524" y="3422">100 m</text>
  </g>
  <text transform="translate(2335,3470) rotate(-10) scale(.82,1.7)" font-family="'Liberation Serif',serif" font-style="italic" font-size="24" fill="#111">Eugenia Prina Ricotti</text>
</g>

<text class="txt" x="219" y="3669" font-size="54" textLength="1401" lengthAdjust="spacingAndGlyphs">77 - Visual connection of the Tomb from Hadrian quarters.</text>
</svg>
</body>
</html>
